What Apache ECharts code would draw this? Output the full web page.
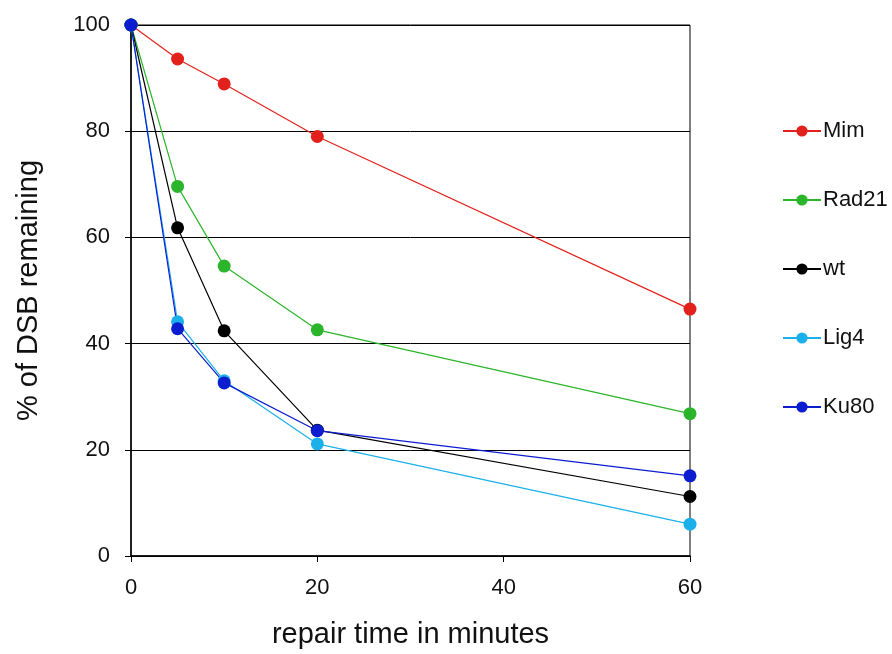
<!DOCTYPE html>
<html>
<head>
<meta charset="utf-8">
<script src="https://cdn.jsdelivr.net/npm/echarts@6/dist/echarts.min.js"></script>
<style>html,body{margin:0;padding:0;background:#fff;}#c{width:892px;height:654px;}</style>
</head>
<body>
<div id="c"></div>
<script>
const times = [0, 5, 10, 20, 60];
const seriesNames = ['Mim', 'Rad21', 'wt', 'Lig4', 'Ku80'];
const mim = [100, 93.6, 88.9, 79, 46.5];
const rad21 = [100, 69.6, 54.6, 42.6, 26.8];
const wt = [100, 61.8, 42.4, 23.7, 11.2];
const lig4 = [100, 44.1, 33.0, 21.1, 6.0];
const ku80 = [100, 42.8, 32.6, 23.6, 15.1];
const colors = ['#e3211c', '#2bb52b', '#000000', '#1cb0ea', '#0c1dd0'];
const values = [mim, rad21, wt, lig4, ku80];
const FONT = 'Liberation Sans, Arial, sans-serif';

const chart = echarts.init(document.getElementById('c'));
chart.setOption({
  animation: false,
  backgroundColor: '#fff',
  grid: {left: 131, right: 202, top: 25, bottom: 96, show: true, borderColor: '#000', borderWidth: 1, backgroundColor: 'transparent'},
  legend: {
    orient: 'vertical', left: 777, top: 115,
    itemWidth: 38, itemHeight: 14, itemGap: 47,
    data: seriesNames,
    textStyle: {fontFamily: FONT, fontSize: 22, color: '#111', padding: [0, 0, 0, -3]}
  },
  xAxis: {
    type: 'value', min: 0, max: 60, interval: 20,
    name: 'repair time in minutes', nameLocation: 'middle', nameGap: 64,
    nameTextStyle: {fontFamily: FONT, fontSize: 29, color: '#111'},
    axisLine: {lineStyle: {color: '#000', width: 1.5}},
    axisTick: {show: true, length: 6, lineStyle: {color: '#000'}},
    axisLabel: {fontFamily: FONT, fontSize: 22, color: '#111', margin: 21},
    splitLine: {show: false}
  },
  yAxis: {
    type: 'value', min: 0, max: 100, interval: 20,
    name: '% of DSB remaining', nameLocation: 'middle', nameGap: 88,
    nameTextStyle: {fontFamily: FONT, fontSize: 29, color: '#111'},
    axisLine: {show: true, lineStyle: {color: '#000', width: 1.5}},
    axisTick: {show: true, length: 6, lineStyle: {color: '#000'}},
    axisLabel: {fontFamily: FONT, fontSize: 22, color: '#111', margin: 21},
    splitLine: {show: true, lineStyle: {color: '#000', width: 1}}
  },
  series: seriesNames.map((n, i) => ({
    name: n, type: 'line',
    data: times.map((t, j) => [t, values[i][j]]),
    symbol: 'circle', symbolSize: 13,
    itemStyle: {color: colors[i]},
    lineStyle: {color: colors[i], width: 1.2}
  }))
});
</script>
</body>
</html>
